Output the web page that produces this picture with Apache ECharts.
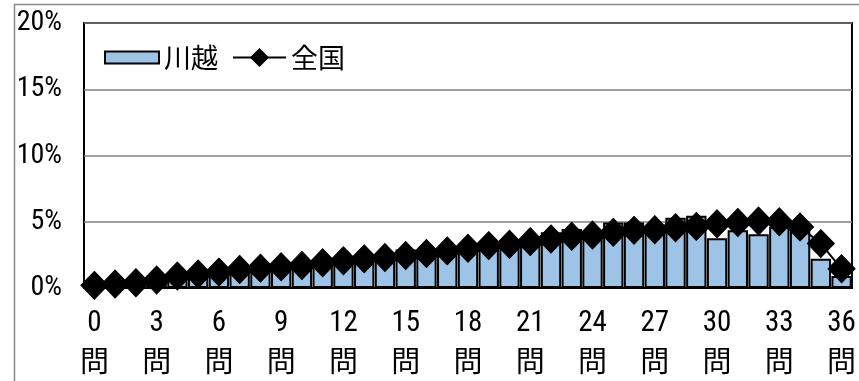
<!DOCTYPE html>
<html>
<head>
<meta charset="utf-8">
<style>
  html, body { margin: 0; padding: 0; background: #ffffff; }
  #chart { width: 859px; height: 381px; }
</style>
<script src="https://cdn.jsdelivr.net/npm/echarts@6/dist/echarts.min.js"></script>
</head>
<body>
<div id="chart"></div>
<script>
// Number of correct answers (0-36問) and the share of examinees at each score (%)
const categories = ['0','1','2','3','4','5','6','7','8','9','10','11','12','13','14','15','16','17','18',
  '19','20','21','22','23','24','25','26','27','28','29','30','31','32','33','34','35','36'];

// 川越
const kawagoe = [0, 0, 0, 0.95, 0.9, 1.05, 1.2, 1.4, 1.5, 1.6, 1.7, 1.9, 2.05, 2.2, 2.3, 2.9, 2.6, 2.8, 3.0,
  3.2, 3.3, 3.5, 4.2, 4.45, 4.0, 4.95, 4.95, 4.4, 5.3, 5.45, 3.75, 4.35, 4.05, 4.6, 4.3, 2.2, 0.9];

// 全国
const national = [0.2, 0.3, 0.4, 0.6, 0.9, 1.05, 1.2, 1.4, 1.5, 1.6, 1.7, 1.9, 2.05, 2.2, 2.3, 2.45, 2.6, 2.8, 3.0,
  3.2, 3.3, 3.5, 3.7, 3.9, 4.0, 4.2, 4.35, 4.4, 4.55, 4.65, 4.85, 4.95, 5.05, 5.0, 4.6, 3.35, 1.45];

const yTicks = { min: 0, max: 20, interval: 5 };
const suffix = '問';

const narrow = "'Roboto Condensed', 'DejaVu Sans Condensed', sans-serif";
const cjk = "'Noto Sans CJK JP', 'Noto Sans', sans-serif";

const chart = echarts.init(document.getElementById('chart'), null, { renderer: 'canvas' });

chart.setOption({
  animation: false,
  backgroundColor: '#ffffff',
  graphic: [{
    type: 'rect',
    z: -10,
    silent: true,
    shape: { x: 14.5, y: 4.5, width: 1000, height: 1000 },
    style: { fill: 'none', stroke: '#8a8a8a', lineWidth: 1.5 }
  }],
  legend: [{
    data: [{ name: '川越', icon: 'rect' }],
    left: 104,
    top: 44,
    padding: 0,
    itemWidth: 54,
    itemHeight: 12,
    textStyle: { fontFamily: cjk, fontSize: 27, color: '#000' }
  }, {
    data: ['全国'],
    left: 232,
    top: 44,
    padding: 0,
    itemWidth: 53,
    itemHeight: 24,
    textStyle: { fontFamily: cjk, fontSize: 27, color: '#000' }
  }],
  grid: {
    left: 84,
    right: 1,
    top: 23,
    bottom: 93,
    show: true,
    borderColor: '#000',
    borderWidth: 2,
    containLabel: false
  },
  xAxis: {
    type: 'category',
    data: categories,
    boundaryGap: true,
    axisLine: { lineStyle: { color: '#000', width: 2 } },
    axisTick: { show: false },
    axisLabel: {
      interval: 2,
      margin: 18,
      formatter: v => '{n|' + v + '}\n{c|' + suffix + '}',
      rich: {
        n: { fontFamily: narrow, fontSize: 29, lineHeight: 36, color: '#000' },
        c: { fontFamily: cjk, fontSize: 29, lineHeight: 38, color: '#000' }
      }
    }
  },
  yAxis: {
    type: 'value',
    min: yTicks.min,
    max: yTicks.max,
    interval: yTicks.interval,
    axisLine: { show: false },
    axisTick: { show: false },
    splitLine: { lineStyle: { color: '#808080', width: 1.5 } },
    axisLabel: {
      margin: 22,
      formatter: '{value}%',
      fontFamily: narrow,
      fontSize: 28,
      color: '#000'
    }
  },
  series: [{
    name: '川越',
    type: 'bar',
    data: kawagoe,
    barCategoryGap: '2%',
    itemStyle: { color: '#9dc3e6', borderColor: '#000', borderWidth: 2 }
  }, {
    name: '全国',
    type: 'line',
    data: national,
    symbol: 'diamond',
    symbolSize: [27, 28],
    showAllSymbol: true,
    lineStyle: { color: '#000', width: 2 },
    itemStyle: { color: '#000', borderColor: '#000' }
  }]
});
</script>
</body>
</html>
